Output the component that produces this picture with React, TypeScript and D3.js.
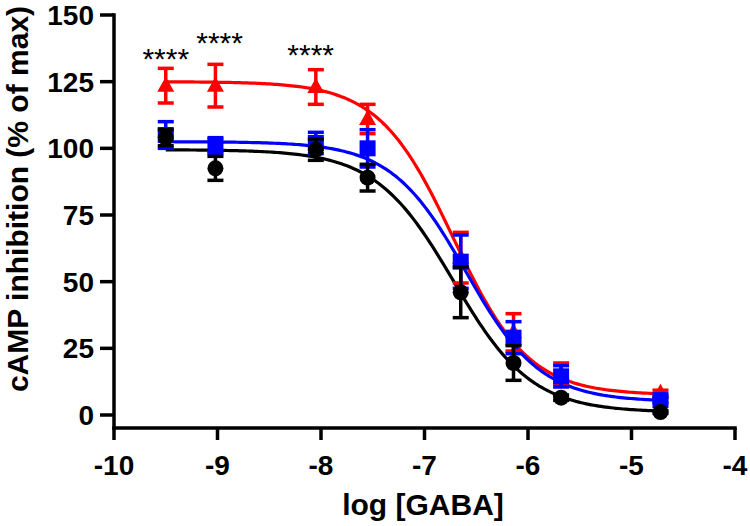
import React, { useEffect, useRef } from 'react';
import * as d3 from 'd3';

// log [GABA] doses
const logDoses = [-9.5, -9.02, -8.05, -7.55, -6.65, -6.14, -5.68, -4.72];

// means (% of max) and SEM per series
const redMeans = [123.5, 123.5, 123, 111, 59, 31, 15.5, 8.3];
const redErr = [6.5, 8, 6.5, 5.5, 9.5, 7, 4, 1];
const blueMeans = [105, 101, 102, 100, 57.5, 29, 14.5, 5.6];
const blueErr = [5, 3, 4, 7, 10, 6, 4, 1];
const blackMeans = [104, 92.5, 99.5, 89, 46, 19.5, 6.5, 1.1];
const blackErr = [3, 4.5, 4, 5, 9.5, 6.5, 1, 0.5];

// fitted 4PL parameters: [top, bottom, logEC50, hill]
const redFit = [125, 7.5, -6.72, 1.2];
const blueFit = [102.5, 5, -6.6, 1.2];
const blackFit = [99.5, 1, -6.72, 1.15];

const xTicks = [-10, -9, -8, -7, -6, -5, -4];
const yTicks = [0, 25, 50, 75, 100, 125, 150];

// significance marks: position in data units
const starX = [-9.5, -8.98, -8.1];
const starY = [136, 142, 137.6];
const starLabel = '****';

interface Series {
  color: string;
  shape: 'triangle' | 'square' | 'circle';
  means: number[];
  err: number[];
  fit: number[];
}

const series: Series[] = [
  { color: '#ff0000', shape: 'triangle', means: redMeans, err: redErr, fit: redFit },
  { color: '#0000ff', shape: 'square', means: blueMeans, err: blueErr, fit: blueFit },
  { color: '#000000', shape: 'circle', means: blackMeans, err: blackErr, fit: blackFit },
];

const fourPL = (fit: number[], x: number) => {
  const [top, bottom, ec, hill] = fit;
  return bottom + (top - bottom) / (1 + Math.pow(10, (x - ec) * hill));
};

export default function App() {
  const svgRef = useRef<SVGSVGElement>(null);
  const width = 750;
  const height = 526;

  useEffect(() => {
    if (!svgRef.current) return;
    const svg = d3.select(svgRef.current);
    svg.selectAll('*').remove();

    const font = "'Liberation Sans', Arial, Helvetica, sans-serif";
    const x = d3.scaleLinear().domain([-10, -4]).range([114, 735]);
    const y = d3.scaleLinear().domain([0, 150]).range([415, 15]);
    const axisY = 428;

    // axes
    svg.append('line')
      .attr('x1', x(-10)).attr('x2', x(-10))
      .attr('y1', y(150) - 1.75).attr('y2', axisY + 1.75)
      .attr('stroke', '#000').attr('stroke-width', 3.5);
    svg.append('line')
      .attr('x1', x(-10) - 1.75).attr('x2', x(-4) + 1.75)
      .attr('y1', axisY).attr('y2', axisY)
      .attr('stroke', '#000').attr('stroke-width', 3.5);

    yTicks.forEach((t) => {
      svg.append('line')
        .attr('x1', x(-10) - 14).attr('x2', x(-10))
        .attr('y1', y(t)).attr('y2', y(t))
        .attr('stroke', '#000').attr('stroke-width', 3.5);
      svg.append('text')
        .attr('x', x(-10) - 20).attr('y', y(t) + 10)
        .attr('text-anchor', 'end')
        .style('font-family', font).style('font-weight', 'bold').style('font-size', '28px')
        .text(t);
    });

    xTicks.forEach((t) => {
      svg.append('line')
        .attr('x1', x(t)).attr('x2', x(t))
        .attr('y1', axisY).attr('y2', axisY + 12)
        .attr('stroke', '#000').attr('stroke-width', 3.5);
      svg.append('text')
        .attr('x', x(t)).attr('y', 475)
        .attr('text-anchor', 'middle')
        .style('font-family', font).style('font-weight', 'bold').style('font-size', '28px')
        .text(t);
    });

    svg.append('text')
      .attr('x', 423).attr('y', 515)
      .attr('text-anchor', 'middle')
      .style('font-family', font).style('font-weight', 'bold').style('font-size', '30px')
      .text('log [GABA]');

    svg.append('text')
      .attr('transform', `translate(28, 199) rotate(-90)`)
      .attr('text-anchor', 'middle')
      .style('font-family', font).style('font-weight', 'bold').style('font-size', '30px')
      .text('cAMP inhibition (% of max)');

    // fitted curves
    const line = d3.line<number>().x((d) => x(d));
    series.forEach((s) => {
      const lo = logDoses[0];
      const hi = logDoses[logDoses.length - 1];
      const xs = d3.range(0, 201).map((i) => lo + (hi - lo) * i / 200);
      line.y((d) => y(fourPL(s.fit, d)));
      svg.append('path')
        .attr('d', line(xs) as string)
        .attr('fill', 'none')
        .attr('stroke', s.color)
        .attr('stroke-width', 3.2);
    });

    // error bars and markers
    series.forEach((s) => {
      const g = svg.append('g');
      logDoses.forEach((d, i) => {
        const cx = x(d);
        const m = s.means[i];
        const e = s.err[i];
        const cap = 8;
        g.append('line')
          .attr('x1', cx).attr('x2', cx)
          .attr('y1', y(m - e)).attr('y2', y(m + e))
          .attr('stroke', s.color).attr('stroke-width', 3.5);
        [m - e, m + e].forEach((v) => {
          g.append('line')
            .attr('x1', cx - cap).attr('x2', cx + cap)
            .attr('y1', y(v)).attr('y2', y(v))
            .attr('stroke', s.color).attr('stroke-width', 3.5);
        });
        const cy = y(m);
        if (s.shape === 'circle') {
          g.append('circle').attr('cx', cx).attr('cy', cy).attr('r', 8).attr('fill', s.color);
        } else if (s.shape === 'square') {
          g.append('rect').attr('x', cx - 8).attr('y', cy - 8).attr('width', 16).attr('height', 16).attr('fill', s.color);
        } else {
          g.append('path')
            .attr('d', `M${cx},${cy - 9} L${cx + 8.5},${cy + 6} L${cx - 8.5},${cy + 6} Z`)
            .attr('fill', s.color);
        }
      });
    });

    // significance stars
    starX.forEach((d, i) => {
      svg.append('text')
        .attr('x', x(d)).attr('y', y(starY[i]) + 17)
        .attr('text-anchor', 'middle')
        .style('font-family', font).style('font-size', '30px')
        .text(starLabel);
    });
  }, []);

  return (
    <div style={{ position: 'absolute', left: 0, top: 0, width, height, background: '#fff' }}>
      <svg ref={svgRef} width={width} height={height} />
    </div>
  );
}
